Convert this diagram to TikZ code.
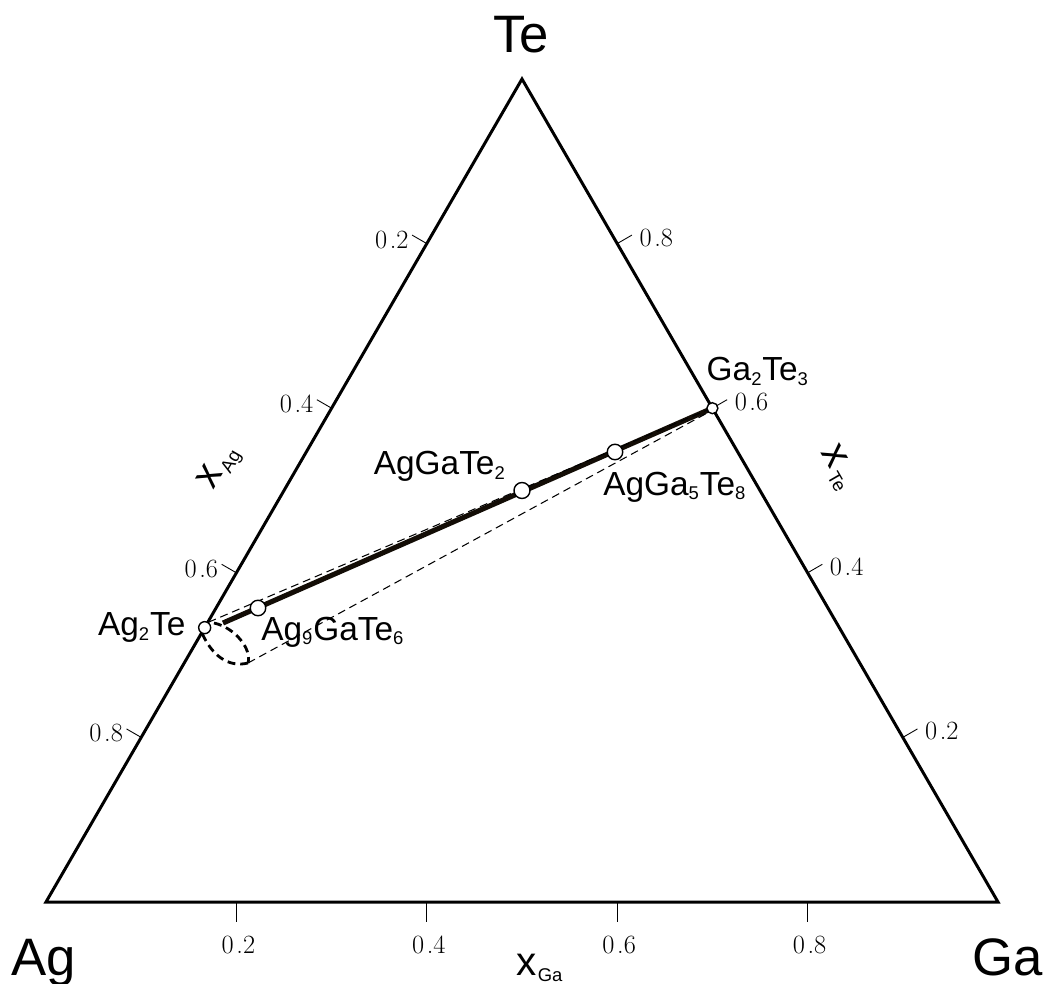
\documentclass[tikz,border=0pt]{standalone}
\usepackage{fontspec}
\newfontfamily\labelfont{Liberation Sans}
\usetikzlibrary{positioning,calc,backgrounds}
\newcommand\lowsub[1]{\textsubscript{\fontsize{10.5}{11}\selectfont #1}}
\tikzset{
  edge/.style={line width=1.7pt,line join=miter},
  tieline/.style={line width=2.9pt,black!90!brown},
  hull/.style={line width=0.6pt,dash pattern=on 4.5pt off 2.8pt},
  lens/.style={line width=1.6pt,dash pattern=on 4.5pt off 2.8pt},
  axtick/.style={line width=0.5pt},
  phase/.style={circle,draw,line width=0.8pt,fill=white,inner sep=0pt,minimum size=#1},
  cmp/.style={font=\labelfont\fontsize{19}{22}\selectfont,inner sep=0pt},
  corner/.style={font=\labelfont\fontsize{30}{34}\selectfont,inner sep=0pt},
  axnum/.style={font=\fontsize{15}{17}\selectfont,inner sep=0pt},
  axlab/.style={font=\labelfont\fontsize{23}{25}\selectfont,inner sep=0pt},
}

\begin{document}
\begin{tikzpicture}[x=0.02cm,y=-0.02cm]
  \useasboundingbox (0,0) rectangle (1046,984);
  \coordinate (Ag) at (46,902);
  \coordinate (Ga) at (998,902);
  \coordinate (Te) at (522,79);
  \draw[edge] (Ag) -- (Ga) -- (Te) -- cycle;

  % axis ticks and numbers
  \foreach \v/\n in {0.2/2,0.4/4,0.6/6,0.8/8}{
    \pgfmathsetmacro\w{1-\v}
    \coordinate (b) at (barycentric cs:Ag=\w,Ga=\v);
    \coordinate (l) at (barycentric cs:Ag=\v,Te=\w);
    \coordinate (r) at (barycentric cs:Ga=\w,Te=\v);
    \draw[axtick] (b) -- ++(0,20);
    \draw[axtick] (l) -- ++(-14.7,-8.5);
    \draw[axtick] (r) -- ++(14.7,-8.5);
    \node[axnum] (bn\n) at ($(b)+(2,43)$) {0\kern1.5pt.\n};
    \node[axnum,anchor=east] (ln\n) at ($(l)+(-18,-4)$) {0\kern1.5pt.\n};
    \node[axnum,anchor=west] (rn\n) at ($(r)+(22,-6)$) {0\kern1.5pt.\n};
  }

  % phases
  \node[phase=0.24cm] (ag2te) at (barycentric cs:Ag=2,Te=1) {};
  \node[phase=0.22cm] (ga2te3) at (barycentric cs:Ga=2,Te=3) {};
  \node[phase=0.32cm] (aggate2) at (barycentric cs:Ag=1,Ga=1,Te=2) {};
  \node[phase=0.31cm] (agga5te8) at (615,452) {};
  \node[phase=0.31cm] (ag9gate6) at (258,608) {};
  \coordinate (tiestart) at (223,623);
  \coordinate (lenstop) at (214,623);
  \coordinate (lensbot) at (248,663);

  \begin{pgfonlayer}{background}
    \draw[tieline] (tiestart) -- (ga2te3.center);
    \draw[hull] (ag2te.55) -- (ga2te3.200);
    \draw[hull] (lensbot) -- (ga2te3.south west);
    \draw[lens] (lenstop) .. controls (236,628) and (252,650) .. (lensbot);
    \draw[lens] (ag2te.250) .. controls (212,655) and (228,668) .. (lensbot);
  \end{pgfonlayer}

  % labels
  \node[cmp,anchor=west] (lga2te3) at ($(ga2te3)+(-6,-37)$) {Ga\lowsub{2}Te\lowsub{3}};
  \node[cmp,anchor=east] (laggate2) at ($(aggate2)+(-16,-24)$) {AgGaTe\lowsub{2}};
  \node[cmp,anchor=west] (lagga5te8) at ($(agga5te8)+(-12,35)$) {AgGa\lowsub{5}Te\lowsub{8}};
  \node[cmp,anchor=east] (lag2te) at ($(ag2te)+(-19,0)$) {Ag\lowsub{2}Te};
  \node[cmp,anchor=west] (lag9gate6) at ($(ag9gate6)+(3,24)$) {Ag\lowsub{9}GaTe\lowsub{6}};

  \node[corner,anchor=base] (lte) at (521,52) {Te};
  \node[corner,anchor=base] (lag) at (44,975) {Ag};
  \node[corner,anchor=base] (lga) at (1008,975) {Ga};

  \node[axlab,anchor=base] (xga) at (540,975) {x\kern0.5pt\lowsub{Ga}};
  \node[axlab,rotate=60] (xag) at (220,468) {x\kern1.5pt\lowsub{Ag}};
  \node[axlab,rotate=-60] (xte) at (838,468) {x\kern1.5pt\lowsub{Te}};
\end{tikzpicture}
\end{document}
